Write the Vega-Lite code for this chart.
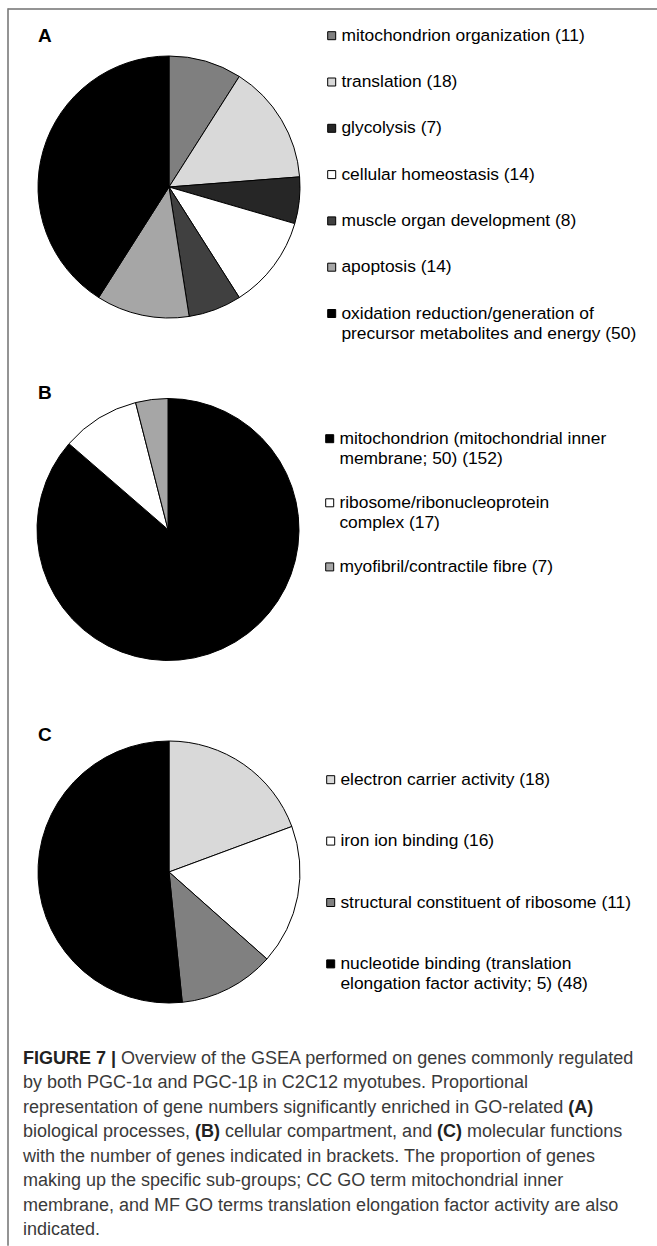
{
  "$schema": "https://vega.github.io/schema/vega-lite/v6.json",
  "padding": {"left": 7, "top": 8, "right": 0, "bottom": 0},
  "background": "white",
  "config": {
    "view": {"stroke": null},
    "font": "Liberation Sans",
    "style": {"guide-label": {"lineHeight": 20}}
  },
  "datasets": {
    "bp": [
      {"category": "mitochondrion organization (11)", "genes": 11, "rank": 1},
      {"category": "translation (18)", "genes": 18, "rank": 2},
      {"category": "glycolysis (7)", "genes": 7, "rank": 3},
      {"category": "cellular homeostasis (14)", "genes": 14, "rank": 4},
      {"category": "muscle organ development (8)", "genes": 8, "rank": 5},
      {"category": "apoptosis (14)", "genes": 14, "rank": 6},
      {"category": "oxidation reduction/generation of precursor metabolites and energy (50)", "genes": 50, "rank": 7}
    ],
    "cc": [
      {"category": "mitochondrion (mitochondrial inner membrane; 50) (152)", "genes": 152, "rank": 1},
      {"category": "ribosome/ribonucleoprotein complex (17)", "genes": 17, "rank": 2},
      {"category": "myofibril/contractile fibre (7)", "genes": 7, "rank": 3}
    ],
    "mf": [
      {"category": "electron carrier activity (18)", "genes": 18, "rank": 1},
      {"category": "iron ion binding (16)", "genes": 16, "rank": 2},
      {"category": "structural constituent of ribosome (11)", "genes": 11, "rank": 3},
      {"category": "nucleotide binding (translation elongation factor activity; 5) (48)", "genes": 48, "rank": 4}
    ]
  },
  "bounds": "flush",
  "spacing": 0,
  "hconcat": [
    {
      "width": 0.001,
      "height": 1236,
      "view": {"stroke": "#707070", "strokeWidth": 1.5},
      "data": {"values": []},
      "mark": "rule",
      "encoding": {}
    },
    {
      "bounds": "flush",
      "spacing": 11.5,
      "resolve": {"scale": {"color": "independent", "theta": "independent"}, "legend": {"color": "independent"}},
      "vconcat": [
        {
          "width": 648,
          "height": 0.001,
          "view": {"stroke": "#707070", "strokeWidth": 1.5},
          "data": {"values": []},
          "mark": "rule",
          "encoding": {}
        },
        {
          "width": 320,
          "height": 331,
          "title": {"text": "A", "anchor": "start", "frame": "group", "dx": 29, "offset": -24.3, "fontSize": 19, "fontWeight": "bold", "color": "black", "baseline": "top", "font": "Liberation Sans"},
          "data": {"name": "bp"},
          "mark": {"type": "arc", "outerRadius": 131, "stroke": "black", "strokeWidth": 1},
          "encoding": {
            "theta": {"field": "genes", "type": "quantitative", "stack": true},
            "order": {"field": "rank", "type": "quantitative"},
            "color": {
              "field": "category",
              "type": "nominal",
              "scale": {
                "domain": ["mitochondrion organization (11)", "translation (18)", "glycolysis (7)", "cellular homeostasis (14)", "muscle organ development (8)", "apoptosis (14)", "oxidation reduction/generation of precursor metabolites and energy (50)"],
                "range": ["#7f7f7f", "#d9d9d9", "#262626", "#ffffff", "#404040", "#a6a6a6", "#000000"]
              },
              "legend": {
                "orient": "none", "legendX": 314, "legendY": 5.5, "direction": "vertical",
                "title": null, "symbolType": "square", "symbolSize": 64,
                "symbolStrokeColor": "black", "symbolStrokeWidth": 1, "symbolOpacity": 1,
                "labelFontSize": 17.4, "labelFont": "Liberation Sans", "labelColor": "#000",
                "labelLimit": 400, "labelOffset": 1, "rowPadding": 27.3, "padding": 0,
                "labelExpr": "datum.label == 'oxidation reduction/generation of precursor metabolites and energy (50)' ? ['oxidation reduction/generation of', 'precursor metabolites and energy (50)'] : datum.label"
              }
            }
          }
        },
        {
          "width": 318,
          "height": 331,
          "title": {"text": "B", "anchor": "start", "frame": "group", "dx": 29, "offset": -39.3, "fontSize": 19, "fontWeight": "bold", "color": "black", "baseline": "top", "font": "Liberation Sans"},
          "data": {"name": "cc"},
          "mark": {"type": "arc", "outerRadius": 131, "stroke": "black", "strokeWidth": 1},
          "encoding": {
            "theta": {"field": "genes", "type": "quantitative", "stack": true},
            "order": {"field": "rank", "type": "quantitative"},
            "color": {
              "field": "category",
              "type": "nominal",
              "scale": {
                "domain": ["mitochondrion (mitochondrial inner membrane; 50) (152)", "ribosome/ribonucleoprotein complex (17)", "myofibril/contractile fibre (7)"],
                "range": ["#000000", "#ffffff", "#a6a6a6"]
              },
              "legend": {
                "orient": "none", "legendX": 312, "legendY": 66, "direction": "vertical",
                "title": null, "symbolType": "square", "symbolSize": 64,
                "symbolStrokeColor": "black", "symbolStrokeWidth": 1, "symbolOpacity": 1,
                "labelFontSize": 17.4, "labelFont": "Liberation Sans", "labelColor": "#000",
                "labelLimit": 400, "labelOffset": 1, "rowPadding": 25.1, "padding": 0,
                "labelExpr": "datum.label == 'mitochondrion (mitochondrial inner membrane; 50) (152)' ? ['mitochondrion (mitochondrial inner', 'membrane; 50) (152)'] : datum.label == 'ribosome/ribonucleoprotein complex (17)' ? ['ribosome/ribonucleoprotein', 'complex (17)'] : datum.label"
              }
            }
          }
        },
        {
          "width": 320,
          "height": 331,
          "title": {"text": "C", "anchor": "start", "frame": "group", "dx": 29, "offset": -38.8, "fontSize": 19, "fontWeight": "bold", "color": "black", "baseline": "top", "font": "Liberation Sans"},
          "data": {"name": "mf"},
          "mark": {"type": "arc", "outerRadius": 131, "stroke": "black", "strokeWidth": 1},
          "encoding": {
            "theta": {"field": "genes", "type": "quantitative", "stack": true},
            "order": {"field": "rank", "type": "quantitative"},
            "color": {
              "field": "category",
              "type": "nominal",
              "scale": {
                "domain": ["electron carrier activity (18)", "iron ion binding (16)", "structural constituent of ribosome (11)", "nucleotide binding (translation elongation factor activity; 5) (48)"],
                "range": ["#d9d9d9", "#ffffff", "#808080", "#000000"]
              },
              "legend": {
                "orient": "none", "legendX": 313, "legendY": 64.5, "direction": "vertical",
                "title": null, "symbolType": "square", "symbolSize": 64,
                "symbolStrokeColor": "black", "symbolStrokeWidth": 1, "symbolOpacity": 1,
                "labelFontSize": 17.4, "labelFont": "Liberation Sans", "labelColor": "#000",
                "labelLimit": 400, "labelOffset": 1, "rowPadding": 42.4, "padding": 0,
                "labelExpr": "datum.label == 'nucleotide binding (translation elongation factor activity; 5) (48)' ? ['nucleotide binding (translation', 'elongation factor activity; 5) (48)'] : datum.label"
              }
            }
          }
        },
        {
          "width": 28,
          "height": 1,
          "data": {"values": [{}]},
          "layer": [
            {
              "mark": {"type": "text", "align": "left", "baseline": "top", "fontSize": 18, "fontWeight": "bold", "color": "#222222"},
              "encoding": {"text": {"value": "FIGURE 7 |"}}
            },
            {
              "mark": {"type": "text", "align": "left", "baseline": "top", "fontSize": 18, "color": "#3a3a3a", "dx": 98.06},
              "encoding": {"text": {"value": "Overview of the GSEA performed on genes commonly regulated"}}
            },
            {
              "mark": {"type": "text", "align": "left", "baseline": "top", "fontSize": 18, "color": "#3a3a3a", "dy": 24.5, "lineHeight": 24.5},
              "encoding": {"text": {"value": ["by both PGC-1α and PGC-1β in C2C12 myotubes. Proportional", "representation of gene numbers significantly enriched in GO-related", "biological processes,", "with the number of genes indicated in brackets. The proportion of genes", "making up the specific sub-groups; CC GO term mitochondrial inner", "membrane, and MF GO terms translation elongation factor activity are also", "indicated."]}}
            },
            {
              "mark": {"type": "text", "align": "left", "baseline": "top", "fontSize": 18, "fontWeight": "bold", "color": "#222222", "dx": 545.2, "dy": 49},
              "encoding": {"text": {"value": "(A)"}}
            },
            {
              "mark": {"type": "text", "align": "left", "baseline": "top", "fontSize": 18, "fontWeight": "bold", "color": "#222222", "dx": 172.1, "dy": 73.5},
              "encoding": {"text": {"value": "(B)"}}
            },
            {
              "mark": {"type": "text", "align": "left", "baseline": "top", "fontSize": 18, "color": "#3a3a3a", "dx": 202.05, "dy": 73.5},
              "encoding": {"text": {"value": "cellular compartment, and"}}
            },
            {
              "mark": {"type": "text", "align": "left", "baseline": "top", "fontSize": 18, "fontWeight": "bold", "color": "#222222", "dx": 414.1, "dy": 73.5},
              "encoding": {"text": {"value": "(C)"}}
            },
            {
              "mark": {"type": "text", "align": "left", "baseline": "top", "fontSize": 18, "color": "#3a3a3a", "dx": 444.1, "dy": 73.5},
              "encoding": {"text": {"value": "molecular functions"}}
            }
          ]
        }
      ]
    }
  ]
}
